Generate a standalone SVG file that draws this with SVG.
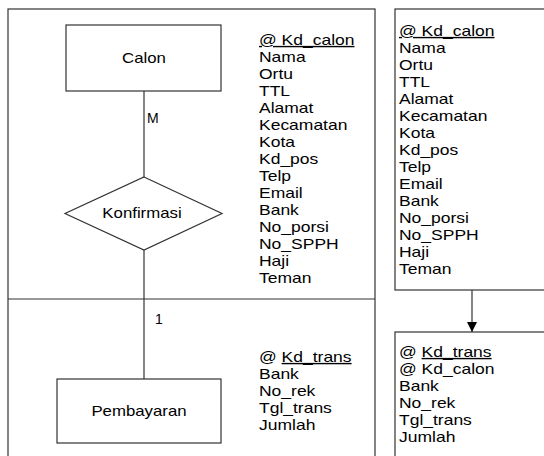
<svg xmlns="http://www.w3.org/2000/svg" width="544" height="456" viewBox="0 0 544 456">
<defs>
<marker id="arr" viewBox="0 0 10 10" refX="10" refY="5" markerWidth="10" markerHeight="10" markerUnits="userSpaceOnUse" orient="auto">
<path d="M0,0 L10,5 L0,10 Z" fill="#000"/>
</marker>
</defs>
<style>
text{font-family:"Liberation Sans",Arial,sans-serif;font-size:14px;fill:#000}
.shape{fill:#fff;stroke:#333;stroke-width:1.2}
.line{fill:none;stroke:#333;stroke-width:1.2}
.u{text-decoration:underline}
</style>
<rect width="544" height="456" fill="#fff"/>
<g id="frame-left">
<rect class="shape" x="8" y="9" width="367" height="460"/>
<line class="line" x1="8" y1="299" x2="375" y2="299"/>
</g>
<g id="connectors">
<line class="line" x1="144" y1="91" x2="144" y2="177"/>
<line class="line" x1="144" y1="250" x2="144" y2="379"/>
<line class="line" x1="472" y1="290" x2="472" y2="332" marker-end="url(#arr)"/>
<text x="147" y="123">M</text>
<text x="155" y="324">1</text>
</g>
<g id="calon">
<rect class="shape" x="66" y="25" width="155" height="66"/>
<text x="144" y="63" text-anchor="middle" transform="translate(144,0) scale(1.2,1) translate(-144,0)">Calon</text>
</g>
<g id="konfirmasi">
<polygon class="shape" points="144,177 222,213.5 144,250 65,213.5"/>
<text x="142" y="218.5" text-anchor="middle" transform="translate(142,0) scale(1.2,1) translate(-142,0)">Konfirmasi</text>
</g>
<g id="pembayaran">
<rect class="shape" x="57" y="379" width="164" height="64"/>
<text x="139" y="416" text-anchor="middle" transform="translate(139,0) scale(1.2,1) translate(-139,0)">Pembayaran</text>
</g>
<g id="attr-calon" transform="translate(259,0) scale(1.25,1)">
<text x="0" y="45" class="u">@ Kd_calon</text>
<text x="0" y="62">Nama</text>
<text x="0" y="79">Ortu</text>
<text x="0" y="96">TTL</text>
<text x="0" y="113">Alamat</text>
<text x="0" y="130">Kecamatan</text>
<text x="0" y="147">Kota</text>
<text x="0" y="164">Kd_pos</text>
<text x="0" y="181">Telp</text>
<text x="0" y="198">Email</text>
<text x="0" y="215">Bank</text>
<text x="0" y="232">No_porsi</text>
<text x="0" y="249">No_SPPH</text>
<text x="0" y="266">Haji</text>
<text x="0" y="283">Teman</text>
</g>
<g id="attr-pembayaran" transform="translate(259,0) scale(1.25,1)">
<text x="0" y="362">@ <tspan class="u">Kd_trans</tspan></text>
<text x="0" y="379">Bank</text>
<text x="0" y="396">No_rek</text>
<text x="0" y="413">Tgl_trans</text>
<text x="0" y="430">Jumlah</text>
</g>
<g id="table-calon">
<rect class="shape" x="395" y="9" width="160" height="281"/>
<g transform="translate(399,0) scale(1.25,1)">
<text x="0" y="36" class="u">@ Kd_calon</text>
<text x="0" y="53">Nama</text>
<text x="0" y="70">Ortu</text>
<text x="0" y="87">TTL</text>
<text x="0" y="104">Alamat</text>
<text x="0" y="121">Kecamatan</text>
<text x="0" y="138">Kota</text>
<text x="0" y="155">Kd_pos</text>
<text x="0" y="172">Telp</text>
<text x="0" y="189">Email</text>
<text x="0" y="206">Bank</text>
<text x="0" y="223">No_porsi</text>
<text x="0" y="240">No_SPPH</text>
<text x="0" y="257">Haji</text>
<text x="0" y="274">Teman</text>
</g>
</g>
<g id="table-pembayaran">
<rect class="shape" x="395" y="332" width="160" height="140"/>
<g transform="translate(399,0) scale(1.25,1)">
<text x="0" y="357">@ <tspan class="u">Kd_trans</tspan></text>
<text x="0" y="374">@ Kd_calon</text>
<text x="0" y="391">Bank</text>
<text x="0" y="408">No_rek</text>
<text x="0" y="425">Tgl_trans</text>
<text x="0" y="442">Jumlah</text>
</g>
</g>
</svg>
